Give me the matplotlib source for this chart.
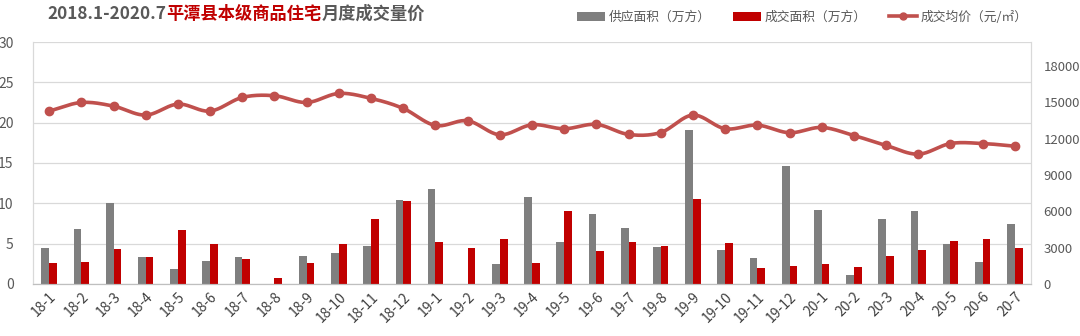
import matplotlib

matplotlib.use("Agg")
import matplotlib.pyplot as plt
import numpy as np
from matplotlib.lines import Line2D
from matplotlib.patches import Patch

plt.rcParams["font.family"] = ["Noto Sans CJK SC", "DejaVu Sans"]

months = [
    "18-1", "18-2", "18-3", "18-4", "18-5", "18-6", "18-7", "18-8", "18-9", "18-10",
    "18-11", "18-12", "19-1", "19-2", "19-3", "19-4", "19-5", "19-6", "19-7", "19-8",
    "19-9", "19-10", "19-11", "19-12", "20-1", "20-2", "20-3", "20-4", "20-5", "20-6", "20-7",
]
supply_area = [
    4.43, 6.79, 10.0, 3.39, 1.82, 2.85, 3.35, 0.0, 3.48, 3.89,
    4.68, 10.43, 11.83, 0.0, 2.52, 10.84, 5.17, 8.73, 6.91, 4.59,
    19.11, 4.22, 3.19, 14.65, 9.18, 1.08, 8.07, 9.06, 5.0, 2.73, 7.45,
]
deal_area = [
    2.65, 2.77, 4.34, 3.39, 6.70, 4.96, 3.14, 0.74, 2.57, 5.0,
    8.03, 10.26, 5.21, 4.43, 5.63, 2.65, 9.06, 4.10, 5.25, 4.72,
    10.51, 5.09, 1.99, 2.23, 2.48, 2.07, 3.43, 4.22, 5.34, 5.54, 4.47,
]
avg_price = [
    14290, 15000, 14700, 13960, 14870, 14290, 15420, 15560, 15000, 15750,
    15340, 14510, 13100, 13490, 12330, 13160, 12830, 13190, 12360, 12520,
    13960, 12830, 13130, 12500, 12940, 12270, 11450, 10730, 11610, 11610, 11390,
]
left_ticks = [0, 5, 10, 15, 20, 25, 30]
right_ticks = [0, 3000, 6000, 9000, 12000, 15000, 18000]

GRAY = "#7f7f7f"
RED = "#c00000"
LINE_RED = "#c0504d"
TEXT = "#595959"


def smooth_curve(x, y, steps=20):
    """Catmull-Rom curve through the points, for an Excel-like smooth line."""
    x = np.asarray(x, dtype=float)
    y = np.asarray(y, dtype=float)
    px = np.concatenate([[2 * x[0] - x[1]], x, [2 * x[-1] - x[-2]]])
    py = np.concatenate([[2 * y[0] - y[1]], y, [2 * y[-1] - y[-2]]])
    xs, ys = [], []
    t = np.linspace(0, 1, steps, endpoint=False)
    for i in range(1, len(px) - 2):
        for p, out in ((px, xs), (py, ys)):
            p0, p1, p2, p3 = p[i - 1], p[i], p[i + 1], p[i + 2]
            out.extend(0.5 * ((2 * p1) + (-p0 + p2) * t
                              + (2 * p0 - 5 * p1 + 4 * p2 - p3) * t ** 2
                              + (-p0 + 3 * p1 - 3 * p2 + p3) * t ** 3))
    xs.append(x[-1])
    ys.append(y[-1])
    return np.array(xs), np.array(ys)


fig = plt.figure(figsize=(10.8, 3.36), dpi=100)
ax = fig.add_axes([0.0306, 0.1548, 0.924, 0.7202])
ax2 = ax.twinx()

x = np.arange(len(months))
bw = 0.24
ax.bar(x - bw / 2, supply_area, width=bw, color=GRAY, zorder=2)
ax.bar(x + bw / 2, deal_area, width=bw, color=RED, zorder=2)

ax.set_ylim(0, 30)
ax.set_yticks(left_ticks)
ax.set_xlim(-0.5, len(months) - 0.5)
ax.set_xticks(x)
ax.set_xticklabels(months, rotation=45, ha="right", rotation_mode="anchor")
ax.grid(axis="y", color="#d9d9d9", linewidth=0.9, zorder=0)
ax.set_axisbelow(True)
ax.tick_params(axis="y", length=0, labelsize=10, colors=TEXT, pad=14)
ax.tick_params(axis="x", length=0, labelsize=10, colors="#404040", pad=4)

sx, sy = smooth_curve(x, avg_price)
ax2.plot(sx, sy, color=LINE_RED, linewidth=2.6, solid_capstyle="round", zorder=3)
ax2.plot(x, avg_price, linestyle="none", marker="o", markersize=6,
         color=LINE_RED, zorder=4)
ax2.set_ylim(0, 20000)
ax2.set_yticks(right_ticks)
ax2.tick_params(axis="y", length=0, labelsize=9.5, colors=TEXT, pad=9)

for a in (ax, ax2):
    a.spines["top"].set_visible(False)
    a.spines["left"].set_color("#d9d9d9")
    a.spines["right"].set_color("#d9d9d9")
    a.spines["bottom"].set_color("#bfbfbf")

# title in three coloured pieces
fig.canvas.draw()
renderer = fig.canvas.get_renderer()
pieces = [("2018.1-2020.7", TEXT), ("平潭县本级商品住宅", RED), ("月度成交量价", TEXT)]
xpos = 47 / 1080
for txt, col in pieces:
    t = fig.text(xpos, 1 - 14 / 336, txt, color=col, fontsize=12.4, fontweight="bold",
                 va="center", ha="left")
    bb = t.get_window_extent(renderer)
    xpos += bb.width / fig.bbox.width

handles = [
    Patch(facecolor=GRAY, label="供应面积（万方）"),
    Patch(facecolor=RED, label="成交面积（万方）"),
    Line2D([0], [0], color=LINE_RED, linewidth=2.6, marker="o", markersize=5,
           label="成交均价（元/㎡）"),
]
leg = fig.legend(handles=handles, loc="center right", bbox_to_anchor=(0.962, 1 - 17 / 336),
                 ncol=3, frameon=False, fontsize=9.2, handlelength=2.2, handleheight=0.7,
                 columnspacing=1.7, handletextpad=0.3)
for t in leg.get_texts():
    t.set_color(TEXT)

fig.savefig("out.png", dpi=100)
